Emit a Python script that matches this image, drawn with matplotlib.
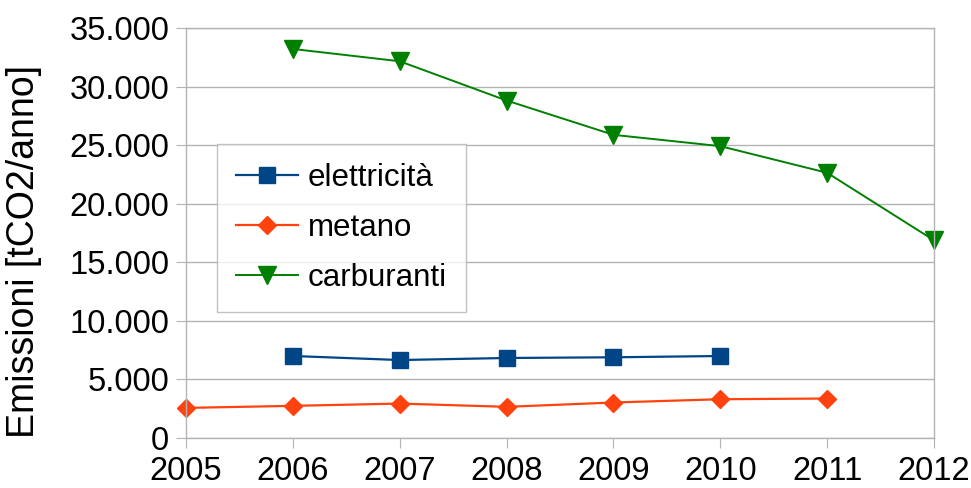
import matplotlib
matplotlib.use('Agg')
import matplotlib.pyplot as plt
from matplotlib.ticker import FuncFormatter

plt.rcParams['font.family'] = ['Liberation Sans', 'DejaVu Sans']

# data
anni_elettricita = [2006, 2007, 2008, 2009, 2010]
elettricita = [7000, 6655, 6830, 6890, 7000]

anni_metano = [2005, 2006, 2007, 2008, 2009, 2010, 2011]
metano = [2570, 2745, 2940, 2660, 3030, 3310, 3370]

anni_carburanti = [2006, 2007, 2008, 2009, 2010, 2011, 2012]
carburanti = [33210, 32160, 28810, 25880, 24915, 22640, 16875]

grigio = '#b3b3b3'

fig = plt.figure(figsize=(9.71, 4.88), dpi=100)
ax = fig.add_axes([186/971, 50/488, (934-186)/971, (438-28)/488])

ax.plot(anni_elettricita, elettricita, color='#004586', marker='s', markersize=11,
        linewidth=1.6, label='elettricità')
ax.plot(anni_metano, metano, color='#ff420e', marker='D', markersize=9.5,
        linewidth=1.6, label='metano')
ax.plot(anni_carburanti, carburanti, color='#008000', marker='v', markersize=13.5,
        linewidth=1.4, label='carburanti')

ax.set_xlim(2005, 2012)
ax.set_ylim(0, 35000)
ax.set_xticks(range(2005, 2013))
ax.set_yticks(range(0, 35001, 5000))
ax.yaxis.set_major_formatter(FuncFormatter(lambda v, p: f'{int(v):,}'.replace(',', '.')))

ax.grid(axis='y', color=grigio, linewidth=1)
ax.set_axisbelow(True)
for s in ax.spines.values():
    s.set_color(grigio)
    s.set_linewidth(1)
ax.tick_params(direction='out', length=7, color=grigio, labelsize=23.5)
ax.tick_params(axis='y', pad=5)
ax.tick_params(axis='x', pad=6)

ax.set_ylabel('Emissioni [tCO2/anno]', fontsize=27)
ax.yaxis.set_label_coords(-0.1925, 0.454)

for line in ax.get_lines():
    line.set_clip_on(False)

leg = ax.legend(loc='upper left', bbox_to_anchor=((217-186)/748, (438-144)/410),
                borderaxespad=0, fontsize=22.5, frameon=True, fancybox=False,
                handlelength=2.0, handletextpad=0.3, labelspacing=0.64,
                borderpad=0.6)
leg.get_frame().set_edgecolor(grigio)
leg.get_frame().set_linewidth(1)

fig.savefig('out.png', dpi=100)
